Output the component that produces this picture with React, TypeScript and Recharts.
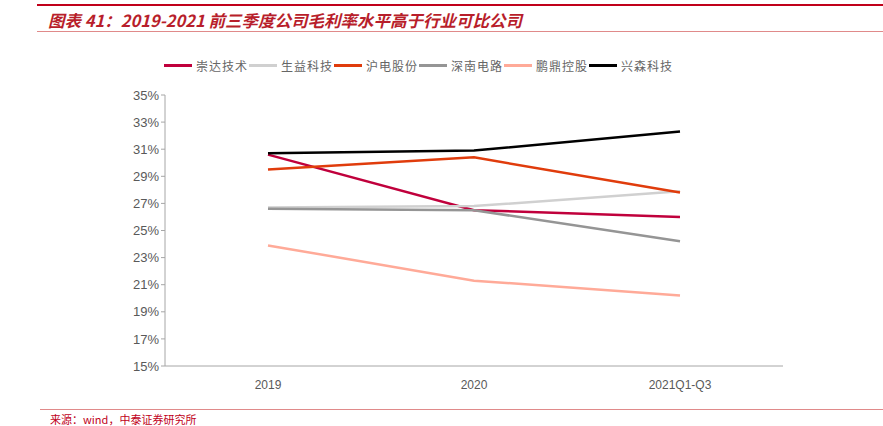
import React from "react";
import { Line, LineChart, XAxis, YAxis } from "recharts";

// 毛利率 (%) by period
const periods = ["2019", "2020", "2021Q1-Q3"];
const chongda = [30.6, 26.5, 26.0];
const shengyi = [26.7, 26.8, 27.9];
const hudian = [29.5, 30.4, 27.8];
const shennan = [26.6, 26.5, 24.2];
const pengding = [23.9, 21.3, 20.2];
const xingsen = [30.7, 30.9, 32.3];
const yTicks = [15, 17, 19, 21, 23, 25, 27, 29, 31, 33, 35];

type SeriesDef = { key: string; name: string; color: string; values: number[] };

const SERIES: SeriesDef[] = [
  { key: "chongda", name: "崇达技术", color: "#C0003C", values: chongda },
  { key: "shengyi", name: "生益科技", color: "#D0D0D0", values: shengyi },
  { key: "hudian", name: "沪电股份", color: "#E03C0C", values: hudian },
  { key: "shennan", name: "深南电路", color: "#959595", values: shennan },
  { key: "pengding", name: "鹏鼎控股", color: "#FFAA98", values: pengding },
  { key: "xingsen", name: "兴森科技", color: "#000000", values: xingsen },
];

const rows = periods.map((p, i) => {
  const row: Record<string, string | number> = { period: p };
  SERIES.forEach((s) => {
    row[s.key] = s.values[i];
  });
  return row;
});

const CJK = '"Noto Sans CJK SC", "Noto Sans", sans-serif';
const LATIN = '"Liberation Sans", Arial, sans-serif';

// legend sits outside the chart so it doesn't eat into the plot margins
function LegendRow() {
  return (
    <div style={{ position: "absolute", top: 57, left: 164, display: "flex" }}>
      {SERIES.map((s) => (
        <div key={s.key} style={{ display: "flex", alignItems: "center", width: 85 }}>
          <span style={{ width: 28, height: 3, background: s.color, display: "inline-block" }} />
          <span style={{ marginLeft: 4, fontSize: 12, color: "#666666", fontFamily: CJK, letterSpacing: 1 }}>
            {s.name}
          </span>
        </div>
      ))}
    </div>
  );
}

export default function App() {
  return (
    <div style={{ position: "fixed", top: 0, left: 0, width: 883, height: 426, background: "#fff", overflow: "hidden" }}>
      <div style={{ position: "absolute", left: 37, right: 0, top: 4, height: 2, background: "#C0001A" }} />
      <div
        style={{
          position: "absolute",
          left: 48,
          top: 8,
          fontSize: 16.5,
          fontWeight: 700,
          fontStyle: "italic",
          color: "#B81E2B",
          fontFamily: CJK,
          whiteSpace: "nowrap",
        }}
      >
        图表 41：2019-2021 前三季度公司毛利率水平高于行业可比公司
      </div>
      <div style={{ position: "absolute", left: 37, right: 0, top: 31, height: 1, background: "#E08A8A" }} />

      <LegendRow />

      <div style={{ position: "absolute", top: 0, left: 0 }}>
        <LineChart
          width={883}
          height={426}
          data={rows}
          margin={{ top: 95, right: 100, bottom: 30, left: 115 }}
        >
          <XAxis
            dataKey="period"
            padding={{ left: 103, right: 103 }}
            axisLine={{ stroke: "#A6A6A6" }}
            tickLine={false}
            tick={{ fill: "#595959", fontSize: 12, fontFamily: LATIN }}
            tickMargin={8}
          />
          <YAxis
            domain={[15, 35]}
            ticks={yTicks}
            width={50}
            interval={0}
            axisLine={{ stroke: "#A6A6A6" }}
            tickLine={{ stroke: "#A6A6A6" }}
            tickSize={4}
            tickFormatter={(v: number) => `${v}%`}
            tick={{ fill: "#595959", fontSize: 13, fontFamily: LATIN }}
          />
          {SERIES.map((s) => (
            <Line
              key={s.key}
              dataKey={s.key}
              name={s.name}
              type="linear"
              stroke={s.color}
              strokeWidth={2.5}
              dot={false}
              isAnimationActive={false}
            />
          ))}
        </LineChart>
      </div>

      <div style={{ position: "absolute", left: 40, right: 0, top: 409, height: 1, background: "#E08A8A" }} />
      <div
        style={{
          position: "absolute",
          left: 50,
          top: 413,
          fontSize: 11,
          lineHeight: "12px",
          color: "#C0001A",
          fontFamily: CJK,
          whiteSpace: "nowrap",
        }}
      >
        来源：wind，中泰证券研究所
      </div>
    </div>
  );
}
